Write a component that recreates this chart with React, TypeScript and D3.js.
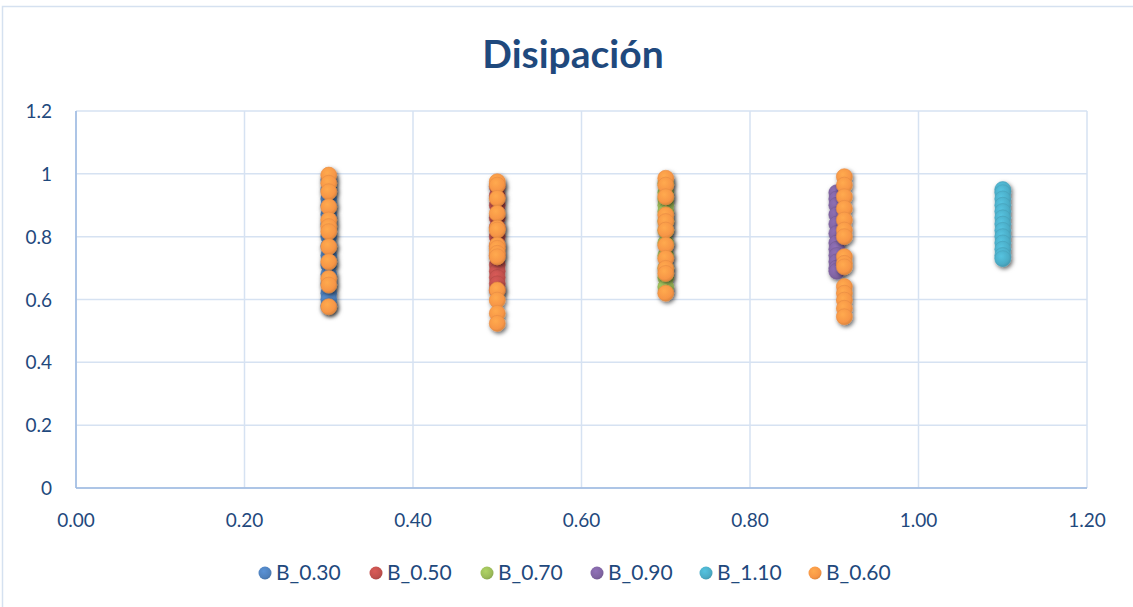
import React from "react";
import * as d3 from "d3";

const seriesNames = ["B_0.30", "B_0.50", "B_0.70", "B_0.90", "B_1.10", "B_0.60"];
const seriesColors = ["#4F81BD", "#C0504D", "#9BBB59", "#8064A2", "#4BACC6", "#F79646"];

const b030X = [0.3];
const b030Y = [0.98, 0.95, 0.92, 0.9, 0.87, 0.84, 0.8, 0.77, 0.74, 0.71, 0.68, 0.65, 0.62, 0.6, 0.58];
const b050X = [0.5];
const b050Y = [0.96, 0.93, 0.9, 0.86, 0.83, 0.8, 0.77, 0.74, 0.71, 0.69, 0.67, 0.65, 0.63];
const b070X = [0.7];
const b070Y = [0.97, 0.94, 0.92, 0.9, 0.88, 0.85, 0.82, 0.78, 0.74, 0.7, 0.67, 0.64];
const b090X = [0.903];
const b090Y = [0.94, 0.92, 0.9, 0.87, 0.84, 0.81, 0.78, 0.76, 0.74, 0.72, 0.7, 0.69];
const b110X = [1.1];
const b110Y = [0.95, 0.94, 0.92, 0.9, 0.88, 0.86, 0.84, 0.82, 0.8, 0.78, 0.76, 0.74, 0.73];
// B_0.60 appears at several x positions
const b060X = [0.3, 0.5, 0.7, 0.912];
const b060Y = [
  [0.996, 0.97, 0.943, 0.895, 0.853, 0.832, 0.816, 0.768, 0.72, 0.667, 0.646, 0.577],
  [0.975, 0.964, 0.922, 0.874, 0.827, 0.821, 0.773, 0.763, 0.747, 0.736, 0.63, 0.598, 0.556, 0.524],
  [0.986, 0.964, 0.927, 0.869, 0.848, 0.821, 0.773, 0.731, 0.699, 0.683, 0.62],
  [0.991, 0.964, 0.927, 0.89, 0.853, 0.821, 0.8, 0.736, 0.715, 0.704, 0.641, 0.62, 0.598, 0.572, 0.545],
];

const xTicks = [0, 0.2, 0.4, 0.6, 0.8, 1.0, 1.2];
const yTicks = [0, 0.2, 0.4, 0.6, 0.8, 1, 1.2];

type Pt = { x: number; y: number };

function buildSeries(): Pt[][] {
  const single = (xs: number[], ys: number[]) => ys.map((y) => ({ x: xs[0], y }));
  const orange: Pt[] = [];
  b060X.forEach((x, i) => b060Y[i].forEach((y) => orange.push({ x, y })));
  return [
    single(b030X, b030Y),
    single(b050X, b050Y),
    single(b070X, b070Y),
    single(b090X, b090Y),
    single(b110X, b110Y),
    orange,
  ];
}

export default function App() {
  const W = 1133;
  const H = 607;
  const left = 76, right = 1087, top = 111, bottom = 488;
  const x = d3.scaleLinear().domain([0, 1.2]).range([left, right]);
  const y = d3.scaleLinear().domain([0, 1.2]).range([bottom, top]);
  const data = buildSeries();
  const font = "Lato, 'Open Sans', sans-serif";
  const textColor = "#1F497D";
  const r = 8;
  const legendX = [265, 376, 487, 597, 706, 815];

  return (
    <svg width={W} height={H} style={{ position: "absolute", left: 0, top: 0, background: "#fff" }}>
      <defs>
        {seriesColors.map((c, i) => (
          <radialGradient key={i} id={`g${i}`} cx="40%" cy="35%" r="70%">
            <stop offset="0%" stopColor={d3.color(c)!.brighter(0.35).toString()} />
            <stop offset="70%" stopColor={c} />
            <stop offset="100%" stopColor={d3.color(c)!.darker(0.4).toString()} />
          </radialGradient>
        ))}
        <filter id="sh" x="-50%" y="-50%" width="200%" height="200%">
          <feDropShadow dx="1.5" dy="2" stdDeviation="2" floodColor="#000" floodOpacity="0.6" />
        </filter>
      </defs>
      <rect x={2.5} y={6.5} width={W + 10} height={H + 10} fill="#fff" stroke="#D5E1F0" strokeWidth={1.5} />
      <text x={573} y={68} textAnchor="middle" fontFamily={font} fontWeight="bold" fontSize={39} fill={textColor}>
        Disipación
      </text>
      {/* gridlines */}
      {yTicks.map((t) => (
        <line key={`gy${t}`} x1={left} x2={right} y1={y(t)} y2={y(t)} stroke="#D6E2F2" strokeWidth={1.5} />
      ))}
      {xTicks.map((t) => (
        <line key={`gx${t}`} x1={x(t)} x2={x(t)} y1={top} y2={bottom} stroke="#D6E2F2" strokeWidth={1.5} />
      ))}
      {/* axes */}
      <line x1={left} x2={left} y1={top} y2={bottom} stroke="#9DB9E0" strokeWidth={1.5} />
      <line x1={left} x2={right} y1={bottom} y2={bottom} stroke="#9DB9E0" strokeWidth={1.5} />
      {yTicks.map((t) => (
        <text key={`ly${t}`} x={52} y={y(t) + 7} textAnchor="end" fontFamily={font} fontSize={19} fill={textColor}>
          {d3.format("")(+t.toFixed(1))}
        </text>
      ))}
      {xTicks.map((t) => (
        <text key={`lx${t}`} x={x(t)} y={527} textAnchor="middle" fontFamily={font} fontSize={19} fill={textColor}>
          {d3.format(".2f")(t)}
        </text>
      ))}
      {/* points */}
      {data.map((pts, si) => (
        <g key={si} filter="url(#sh)">
          {pts.map((p, pi) => (
            <circle key={pi} cx={x(p.x)} cy={y(p.y)} r={r} fill={`url(#g${si})`} stroke={d3.color(seriesColors[si])!.darker(0.2).toString()} strokeWidth={0.6} />
          ))}
        </g>
      ))}
      {/* legend */}
      {seriesNames.map((n, i) => (
        <g key={n}>
          <circle cx={legendX[i]} cy={573} r={6.5} fill={`url(#g${i})`} />
          <text x={legendX[i] + 11} y={580} fontFamily={font} fontSize={21} fill={textColor}>
            {n}
          </text>
        </g>
      ))}
    </svg>
  );
}
